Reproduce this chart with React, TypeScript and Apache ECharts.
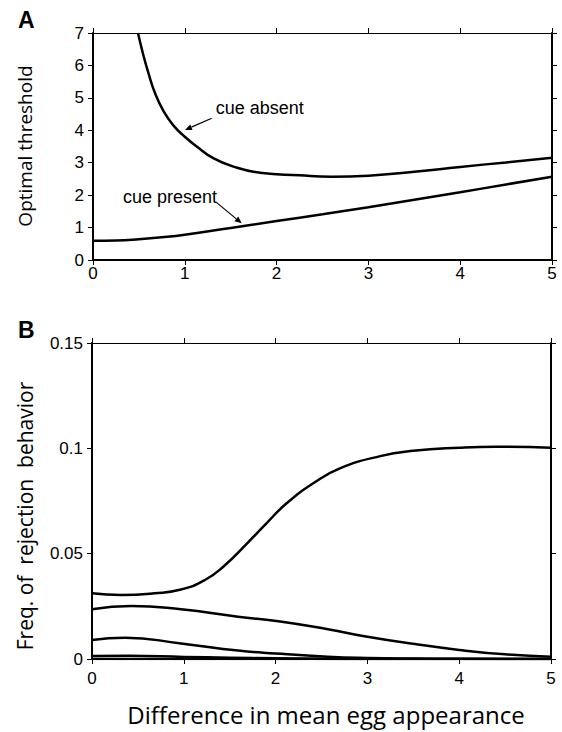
import React, { useEffect, useRef } from "react";
import * as echarts from "echarts";

// ---------- Data ----------
const X_MIN = 0;
const X_MAX = 5;

// Panel A: optimal threshold
const A_Y_MIN = 0;
const A_Y_MAX = 7;
const A_ABSENT_X = [0.49, 0.55, 0.6, 0.675, 0.77, 0.875, 1.0, 1.13, 1.31, 1.53, 1.82, 2.25, 2.6, 3.0, 3.5, 4.0, 4.5, 5.0];
const A_ABSENT_Y = [7.0, 6.3, 5.8, 5.15, 4.58, 4.15, 3.8, 3.5, 3.14, 2.88, 2.69, 2.61, 2.57, 2.6, 2.72, 2.87, 3.01, 3.15];
const A_PRESENT_X = [0, 0.25, 0.5, 0.75, 1, 1.5, 2, 2.5, 3, 3.5, 4, 4.5, 5];
const A_PRESENT_Y = [0.59, 0.6, 0.64, 0.7, 0.78, 0.99, 1.2, 1.41, 1.63, 1.86, 2.09, 2.33, 2.57];

// Panel B: frequency of rejection behaviour
const B_Y_MIN = 0;
const B_Y_MAX = 0.15;
const B1_X = [0, 0.32, 0.68, 0.97, 1.23, 1.43, 1.69, 1.9, 2.12, 2.41, 2.7, 3.14, 3.5, 4.0, 4.4, 5.0];
const B1_Y = [0.0312, 0.0304, 0.0312, 0.033, 0.0375, 0.0438, 0.0549, 0.0644, 0.0739, 0.0834, 0.0905, 0.0963, 0.0988, 0.1003, 0.1008, 0.1003];
const B2_X = [0, 0.43, 0.97, 1.59, 2.05, 2.57, 3.0, 3.5, 4.0, 4.5, 5.0];
const B2_Y = [0.0236, 0.0252, 0.0236, 0.0201, 0.0178, 0.0141, 0.0106, 0.0072, 0.0043, 0.0022, 0.0011];
const B3_X = [0, 0.36, 0.97, 1.59, 2.0, 2.57, 3.0, 3.5, 4.0, 5.0];
const B3_Y = [0.009, 0.0101, 0.0074, 0.004, 0.0026, 0.0011, 0.0005, 0.0002, 0.0001, 0];
const B4_X = [0, 0.4, 1.0, 1.5, 2.0, 2.5, 3.0, 5.0];
const B4_Y = [0.0014, 0.0015, 0.001, 0.0006, 0.0003, 0.0001, 0, 0];
const B5_X = [0, 5];
const B5_Y = [0, 0];

// Texts
const PANEL_LABELS = ["A", "B"];
const Y_TITLE_A = "Optimal threshold";
const Y_TITLE_B = "Freq. of  rejection  behavior";
const X_TITLE = "Difference in mean egg appearance";
const ANNOT_ABSENT = { text: "cue absent", at: [1.337, 4.68], from: [1.293, 4.37], to: [1.002, 4.01] };
const ANNOT_PRESENT = { text: "cue present", at: [0.839, 1.95], from: [1.347, 1.77], to: [1.62, 1.13] };

const zip = (xs: number[], ys: number[]) => xs.map((x, i) => [x, ys[i]]);

const TICK_FONT = "'Liberation Sans', Arial, Helvetica, sans-serif";
const TITLE_FONT = "'Open Sans', 'Noto Sans', sans-serif";

function makeX(gridIndex: number, position: "bottom" | "top", showLabel: boolean, width: number, margin: number) {
  return {
    type: "value",
    gridIndex,
    position,
    min: X_MIN,
    max: X_MAX,
    interval: 1,
    axisLine: { show: true, onZero: false, lineStyle: { color: "#000", width } },
    axisTick: { show: true, inside: false, length: 5, lineStyle: { color: "#000", width: 1 } },
    axisLabel: { show: showLabel, color: "#000", fontSize: 17, fontFamily: TICK_FONT, margin },
    splitLine: { show: false },
  };
}

function makeY(gridIndex: number, position: "left" | "right", showLabel: boolean, min: number, max: number, interval: number) {
  return {
    type: "value",
    gridIndex,
    position,
    min,
    max,
    interval,
    axisLine: { show: true, onZero: false, lineStyle: { color: "#000", width: 2 } },
    axisTick: { show: true, inside: false, length: 5, lineStyle: { color: "#000", width: 1 } },
    axisLabel: { show: showLabel, color: "#000", fontSize: 17, fontFamily: TICK_FONT, margin: 9 },
    splitLine: { show: false },
  };
}

function lineSeries(name: string, data: number[][], xi: number, yi: number) {
  return {
    name,
    type: "line",
    xAxisIndex: xi,
    yAxisIndex: yi,
    data,
    smooth: 0.5,
    showSymbol: false,
    symbol: "none",
    lineStyle: { color: "#000", width: 2.5 },
    z: 3,
  };
}

export default function App() {
  const ref = useRef<HTMLDivElement>(null);

  useEffect(() => {
    if (!ref.current) return;
    const chart = echarts.init(ref.current, undefined, { renderer: "svg" });

    const option: any = {
      animation: false,
      backgroundColor: "#fff",
      grid: [
        { left: 93, top: 33, width: 459, height: 227 },
        { left: 92, top: 343, width: 459, height: 316 },
      ],
      xAxis: [
        makeX(0, "bottom", true, 2, 5),
        makeX(0, "top", false, 1, 5),
        makeX(1, "bottom", true, 2, 11),
        makeX(1, "top", false, 1, 5),
      ],
      yAxis: [
        makeY(0, "left", true, A_Y_MIN, A_Y_MAX, 1),
        makeY(0, "right", false, A_Y_MIN, A_Y_MAX, 1),
        makeY(1, "left", true, B_Y_MIN, B_Y_MAX, 0.05),
        makeY(1, "right", false, B_Y_MIN, B_Y_MAX, 0.05),
      ],
      series: [
        lineSeries("cue absent", zip(A_ABSENT_X, A_ABSENT_Y), 0, 0),
        lineSeries("cue present", zip(A_PRESENT_X, A_PRESENT_Y), 0, 0),
        lineSeries("B1", zip(B1_X, B1_Y), 2, 2),
        lineSeries("B2", zip(B2_X, B2_Y), 2, 2),
        lineSeries("B3", zip(B3_X, B3_Y), 2, 2),
        lineSeries("B4", zip(B4_X, B4_Y), 2, 2),
        lineSeries("B5", zip(B5_X, B5_Y), 2, 2),
      ],
    };
    chart.setOption(option);

    const px = (p: number[]) => chart.convertToPixel({ xAxisIndex: 0, yAxisIndex: 0 }, p) as number[];

    const arrow = (from: number[], to: number[]) => {
      const a = px(from);
      const b = px(to);
      const dx = b[0] - a[0];
      const dy = b[1] - a[1];
      const len = Math.sqrt(dx * dx + dy * dy);
      const ux = dx / len;
      const uy = dy / len;
      const hl = 7;
      const hw = 3;
      const bx = b[0] - ux * hl;
      const by = b[1] - uy * hl;
      return [
        {
          type: "line",
          shape: { x1: a[0], y1: a[1], x2: bx, y2: by },
          style: { stroke: "#000", lineWidth: 1.2 },
        },
        {
          type: "polygon",
          shape: {
            points: [
              [b[0], b[1]],
              [bx - uy * hw, by + ux * hw],
              [bx + uy * hw, by - ux * hw],
            ],
          },
          style: { fill: "#000" },
        },
      ];
    };

    const pAbs = px(ANNOT_ABSENT.at);
    const pPre = px(ANNOT_PRESENT.at);

    const graphic: any[] = [
      {
        type: "text",
        left: 18,
        top: 8,
        style: { text: PANEL_LABELS[0], font: `bold 23px ${TICK_FONT}`, fill: "#000" },
      },
      {
        type: "text",
        left: 18,
        top: 318,
        style: { text: PANEL_LABELS[1], font: `bold 23px ${TICK_FONT}`, fill: "#000" },
      },
      {
        type: "text",
        x: 25,
        y: 146,
        rotation: Math.PI / 2,
        style: { text: Y_TITLE_A, font: `19px ${TITLE_FONT}`, fill: "#000", align: "center", verticalAlign: "middle" },
      },
      {
        type: "text",
        x: 25,
        y: 516,
        rotation: Math.PI / 2,
        style: { text: Y_TITLE_B, font: `21px ${TITLE_FONT}`, fill: "#000", align: "center", verticalAlign: "middle" },
      },
      {
        type: "text",
        x: 326,
        y: 714,
        style: { text: X_TITLE, font: `24px ${TITLE_FONT}`, fill: "#000", align: "center", verticalAlign: "middle" },
      },
      {
        type: "text",
        x: pAbs[0],
        y: pAbs[1],
        style: { text: ANNOT_ABSENT.text, font: `18px ${TICK_FONT}`, fill: "#000", align: "left", verticalAlign: "middle" },
      },
      {
        type: "text",
        x: pPre[0],
        y: pPre[1],
        style: { text: ANNOT_PRESENT.text, font: `18px ${TICK_FONT}`, fill: "#000", align: "center", verticalAlign: "middle" },
      },
      ...arrow(ANNOT_ABSENT.from, ANNOT_ABSENT.to),
      ...arrow(ANNOT_PRESENT.from, ANNOT_PRESENT.to),
    ];

    chart.setOption({ graphic });

    return () => chart.dispose();
  }, []);

  return (
    <div
      ref={ref}
      style={{ position: "fixed", left: 0, top: 0, width: 562, height: 732, background: "#fff" }}
    />
  );
}
